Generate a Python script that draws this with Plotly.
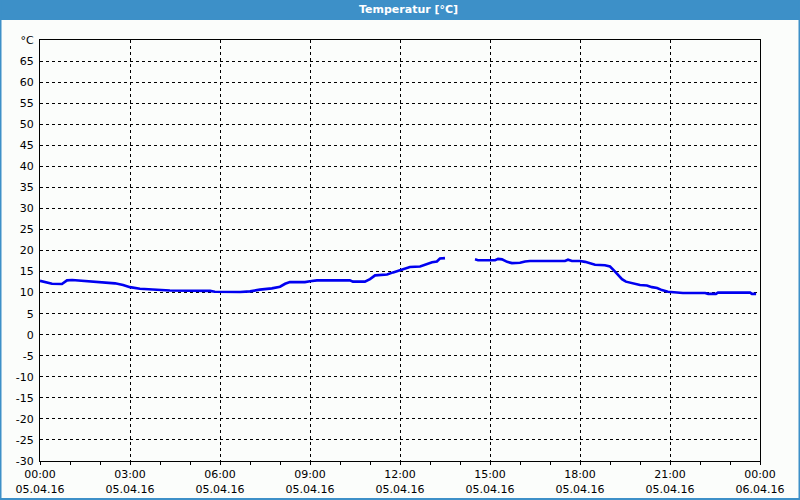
import pandas as pd
import plotly.graph_objects as go

# Data: hours after 05.04.16 00:00 and temperature in °C (None = gap)
hours = [0.0, 0.4, 0.73, 0.9, 1.07, 1.23, 1.67, 2.0, 2.5, 2.77, 3.0, 3.33, 4.0, 4.33,
         5.67, 5.83, 6.67, 7.0, 7.33, 7.73, 8.0, 8.17, 8.33, 8.83, 9.0, 9.23, 10.33,
         10.43, 10.83, 11.0, 11.17, 11.57, 11.77, 12.0, 12.17, 12.33, 12.67, 12.83,
         13.07, 13.23, 13.33, 13.5, 14.0, 14.5, 14.6, 15.17, 15.27, 15.4, 15.57, 15.73,
         16.0, 16.17, 16.33, 17.5, 17.6, 17.73, 18.0, 18.17, 18.33, 18.5, 18.83, 19.0,
         19.13, 19.27, 19.4, 19.53, 19.73, 20.0, 20.23, 20.4, 20.57, 20.73, 20.93,
         21.33, 21.43, 22.17, 22.27, 22.53, 22.6, 23.67, 23.73, 23.87]
temps = [12.8, 12.1, 12.05, 12.9, 13.0, 12.9, 12.7, 12.5, 12.2, 11.8, 11.3, 10.9, 10.7, 10.5,
         10.4, 10.2, 10.15, 10.3, 10.7, 11.0, 11.4, 12.1, 12.5, 12.5, 12.7, 12.9, 12.9,
         12.6, 12.6, 13.2, 14.1, 14.3, 14.8, 15.3, 15.8, 16.1, 16.2, 16.6,
         17.2, 17.4, 18.1, 18.2, None, 17.9, 17.7, 17.7, 18.0, 17.9, 17.3, 17.0,
         17.1, 17.4, 17.5, 17.5, 17.8, 17.5, 17.5, 17.3, 17.0, 16.6, 16.5, 16.2,
         15.3, 14.2, 13.2, 12.6, 12.2, 11.8, 11.7, 11.3, 11.1, 10.6, 10.2,
         10.1, 9.9, 9.9, 9.7, 9.7, 10.0, 10.0, 9.7, 9.7]

start = pd.Timestamp("2016-04-05 00:00")
times = [start + pd.Timedelta(hours=h) for h in hours]

x_tick_vals = ["2016-04-05 00:00", "2016-04-05 03:00", "2016-04-05 06:00", "2016-04-05 09:00",
               "2016-04-05 12:00", "2016-04-05 15:00", "2016-04-05 18:00", "2016-04-05 21:00",
               "2016-04-06 00:00"]
x_tick_text = ["00:00<br>05.04.16", "03:00<br>05.04.16", "06:00<br>05.04.16", "09:00<br>05.04.16",
               "12:00<br>05.04.16", "15:00<br>05.04.16", "18:00<br>05.04.16", "21:00<br>05.04.16",
               "00:00<br>06.04.16"]
y_tick_vals = list(range(-30, 75, 5))
y_tick_text = [str(v) for v in range(-30, 70, 5)] + ["°C"]

title_text = "Temperatur [°C]"

BG = "#FBFDFB"
BAR = "#3D90C8"
FONT = "DejaVu Sans"

fig = go.Figure()
fig.add_trace(go.Scatter(x=times, y=temps, mode="lines", connectgaps=False,
                         line=dict(color="#0000F0", width=2.6), hoverinfo="skip"))

# pixel -> paper helpers (plot area: x 40..760, y 40..461)
def px(X):
    return (X - 40) / 720.0
def py(Y):
    return (461 - Y) / 421.0

fig.update_layout(
    width=800, height=500,
    margin=dict(l=40, r=40, t=40, b=39, autoexpand=False),
    paper_bgcolor=BG, plot_bgcolor=BG,
    showlegend=False,
    font=dict(family=FONT, size=11, color="black"),
    xaxis=dict(
        type="date", automargin=False,
        range=["2016-04-05 00:00", "2016-04-06 00:00"],
        tickvals=x_tick_vals, ticktext=x_tick_text,
        showgrid=True, gridcolor="black", griddash="3px,3px", gridwidth=1,
        showline=True, linecolor="black", linewidth=1, mirror=True,
        ticks="outside", ticklen=3, tickcolor="black",
        minor=dict(ticks="outside", ticklen=3, tickcolor="black",
                   dtick=3600000, tick0="2016-04-05 00:00", showgrid=False),
        zeroline=False, fixedrange=True,
        tickfont=dict(family=FONT, size=11, color="black"),
    ),
    yaxis=dict(
        automargin=False,
        range=[-30, 70],
        tickvals=y_tick_vals, ticktext=y_tick_text,
        showgrid=True, gridcolor="black", griddash="3px,3px", gridwidth=1,
        showline=True, linecolor="black", linewidth=1, mirror=True,
        ticks="", ticklabelstandoff=3,
        zeroline=False, fixedrange=True,
        tickfont=dict(family=FONT, size=11, color="black"),
    ),
    shapes=[
        # title bar
        dict(type="rect", xref="paper", yref="paper",
             x0=px(0), x1=px(800), y0=py(20), y1=py(0),
             fillcolor=BAR, line=dict(width=0), layer="above"),
        # window border
        dict(type="rect", xref="paper", yref="paper",
             x0=px(0.5), x1=px(799.5), y0=py(499), y1=py(0),
             fillcolor="rgba(0,0,0,0)", line=dict(color=BAR, width=2), layer="above"),
    ],
    annotations=[
        dict(text="<b>" + title_text + "</b>", xref="paper", yref="paper",
             x=px(408), y=py(10), xanchor="center", yanchor="middle",
             showarrow=False, font=dict(family=FONT, size=11, color="white")),
    ],
)

fig.write_html("out.html", config={"displayModeBar": False},
               post_script="document.body.style.margin='0';document.body.style.overflow='hidden';")
